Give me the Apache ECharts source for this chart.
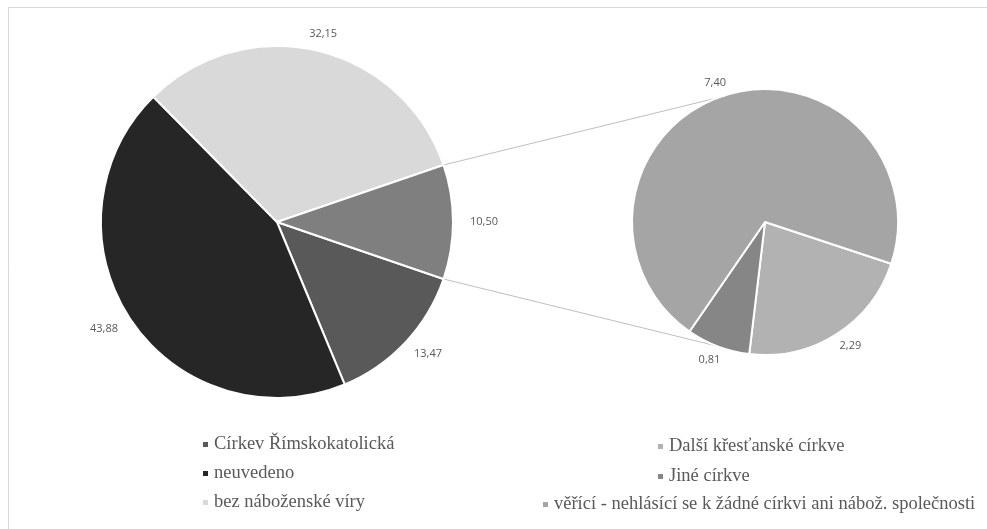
<!DOCTYPE html>
<html><head><meta charset="utf-8">
<script src="https://cdn.jsdelivr.net/npm/echarts@6/dist/echarts.min.js"></script>
<style>html,body{margin:0;padding:0;background:#fff}#c{width:987px;height:529px}</style>
</head><body><div id="c"></div>
<script>
// ---- data ----
const mainNames = ['Církev Římskokatolická', 'neuvedeno', 'bez náboženské víry', 'Ostatní'];
const mainValues = [13.47, 43.88, 32.15, 10.50];
const subNames = ['Další křesťanské církve', 'Jiné církve', 'věřící - nehlásící se k žádné církvi ani nábož. společnosti'];
const subValues = [2.29, 0.81, 7.40];

// ---- style / layout ----
const mainColors = ['#595959', '#262626', '#d9d9d9', '#7f7f7f'];
const subColors = ['#b2b2b2', '#868686', '#a5a5a5'];
const MC = [277, 222], MR = 176;
const SC = [765, 222], SR = 133;
const subStart = -18.3;
const connAngle = 111;
const mainGap = 14, subGap = 11;

const sum = a => a.reduce((x, y) => x + y, 0);
const mainTotal = sum(mainValues);
const otherHalf = mainValues[3] / mainTotal * 360 / 2;
const mainStart = -otherHalf;

const fmt = v => v.toFixed(2).replace('.', ',');
const mk = (names, vals, cols) => names.map((n, i) => ({ name: n, value: vals[i], itemStyle: { color: cols[i] } }));

const rad = d => d * Math.PI / 180;
const pt = (c, r, a) => [c[0] + r * Math.cos(rad(a)), c[1] - r * Math.sin(rad(a))];
const up0 = pt(MC, MR, otherHalf), up1 = pt(SC, SR, connAngle);
const lo0 = pt(MC, MR, -otherHalf), lo1 = pt(SC, SR, -connAngle);

// label items: push each label outward by its box extent along the slice direction
function labelItems(vals, start, prefix) {
  const tot = sum(vals);
  let acc = start;
  return vals.map((v, i) => {
    const span = v / tot * 360;
    const mid = acc - span / 2;
    acc -= span;
    const hw = 14, hh = 5.5;
    const c = Math.cos(rad(mid)), s = Math.sin(rad(mid));
    const ext = hw * Math.abs(c) + hh * Math.abs(s);
    const dx = ext * c, dy = -ext * s;
    const pad = [dy > 0 ? 2 * dy : 0, dx < 0 ? -2 * dx : 0, dy < 0 ? -2 * dy : 0, dx > 0 ? 2 * dx : 0];
    return { name: prefix + i, value: v, label: { padding: pad } };
  });
}

const labelStyle = { show: true, position: 'inside', color: '#595959', fontSize: 11, fontFamily: 'Open Sans', align: 'center', verticalAlign: 'middle', formatter: p => fmt(p.value) };
const legendText = { color: '#595959', fontSize: 18.5, fontFamily: 'Liberation Serif', lineHeight: 18 };

const chart = echarts.init(document.getElementById('c'), null, { renderer: 'canvas' });
chart.setOption({
  animation: false,
  backgroundColor: '#fff',
  legend: [
    { data: mainNames.slice(0, 3), orient: 'vertical', left: 196, top: 430, itemWidth: 7, itemHeight: 7, icon: 'rect', itemGap: 10, textStyle: legendText, selectedMode: false },
    { data: subNames.slice(0, 2), orient: 'vertical', left: 651, top: 432, itemWidth: 7, itemHeight: 7, icon: 'rect', itemGap: 11, textStyle: legendText, selectedMode: false },
    { data: subNames.slice(2), orient: 'vertical', left: 536, top: 490, itemWidth: 7, itemHeight: 7, icon: 'rect', textStyle: legendText, selectedMode: false }
  ],
  graphic: [
    { type: 'rect', silent: true, shape: { x: 8.5, y: 7.5, width: 1200, height: 800 }, style: { fill: 'none', stroke: '#d9d9d9', lineWidth: 1 } },
    { type: 'line', silent: true, z: 0, shape: { x1: up0[0], y1: up0[1], x2: up1[0], y2: up1[1] }, style: { stroke: '#bfbfbf', lineWidth: 1 } },
    { type: 'line', silent: true, z: 0, shape: { x1: lo0[0], y1: lo0[1], x2: lo1[0], y2: lo1[1] }, style: { stroke: '#bfbfbf', lineWidth: 1 } }
  ],
  series: [
    { type: 'pie', center: MC, radius: [0, MR], startAngle: mainStart, clockwise: true, silent: true, z: 3,
      label: { show: false }, labelLine: { show: false },
      itemStyle: { borderColor: '#fff', borderWidth: 2 }, data: mk(mainNames, mainValues, mainColors) },
    { type: 'pie', center: SC, radius: [0, SR], startAngle: subStart, clockwise: true, silent: true, z: 3,
      label: { show: false }, labelLine: { show: false },
      itemStyle: { borderColor: '#fff', borderWidth: 2 }, data: mk(subNames, subValues, subColors) },
    { type: 'pie', center: MC, radius: [MR, MR + 2 * mainGap], startAngle: mainStart, clockwise: true, silent: true, legendHoverLink: false, z: 1,
      itemStyle: { color: 'rgba(0,0,0,0)' }, label: labelStyle, labelLine: { show: false },
      data: labelItems(mainValues, mainStart, '_m') },
    { type: 'pie', center: SC, radius: [SR, SR + 2 * subGap], startAngle: subStart, clockwise: true, silent: true, legendHoverLink: false, z: 1,
      itemStyle: { color: 'rgba(0,0,0,0)' }, label: labelStyle, labelLine: { show: false },
      data: labelItems(subValues, subStart, '_s') }
  ]
});
</script></body></html>
